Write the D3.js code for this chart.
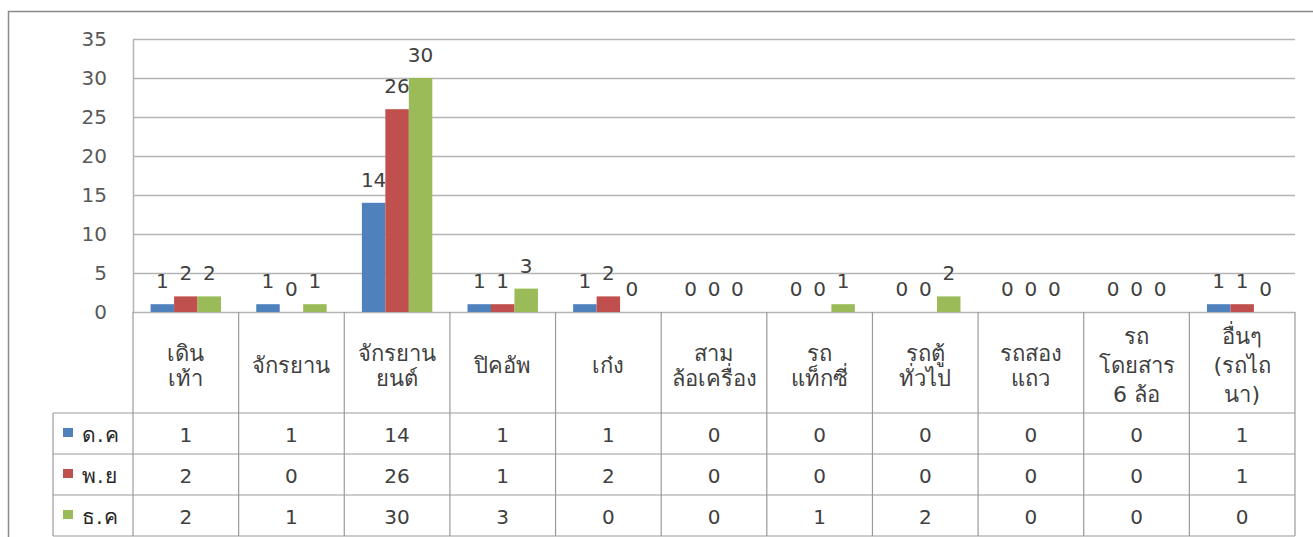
<!DOCTYPE html>
<html>
<head>
<meta charset="utf-8">
<script src="https://cdn.jsdelivr.net/npm/d3@7"></script>
<style>
  body { margin: 0; background: #fff; }
  text { font-family: "DejaVu Sans", sans-serif; }
</style>
</head>
<body>
<div id="chart"></div>
<script>
const categories = [
  ["เดิน", "เท้า"],
  ["จักรยาน"],
  ["จักรยาน", "ยนต์"],
  ["ปิคอัพ"],
  ["เก๋ง"],
  ["สาม", "ล้อเครื่อง"],
  ["รถ", "แท็กซี่"],
  ["รถตู้", "ทั่วไป"],
  ["รถสอง", "แถว"],
  ["รถ", "โดยสาร", "6 ล้อ"],
  ["อื่นๆ", "(รถไถ", "นา)"]
];
const seriesNames = ["ด.ค", "พ.ย", "ธ.ค"];
const octValues = [1, 1, 14, 1, 1, 0, 0, 0, 0, 0, 1];
const novValues = [2, 0, 26, 1, 2, 0, 0, 0, 0, 0, 1];
const decValues = [2, 1, 30, 3, 0, 0, 1, 2, 0, 0, 0];
const yTicks = [0, 5, 10, 15, 20, 25, 30, 35];

const colors = ["#4f81bd", "#c0504d", "#9bbb59"];
const series = [octValues, novValues, decValues];

const width = 1313, height = 537;
const plotLeft = 133, plotRight = 1295, plotTop = 39, plotBottom = 312;
const headerBottom = 413, rowH = 41, legendLeft = 53;

const svg = d3.select("#chart").append("svg")
  .attr("width", width)
  .attr("height", height);

// chart border (right and bottom edges fall outside the picture)
svg.append("rect")
  .attr("x", 8.5).attr("y", 11.5)
  .attr("width", 1320).attr("height", 540)
  .attr("fill", "none")
  .attr("stroke", "#8a8a8a")
  .attr("stroke-width", 1.5);

const x = d3.scaleBand()
  .domain(d3.range(categories.length))
  .range([plotLeft, plotRight])
  .padding(0);

const bw = x.bandwidth();
// gap width 150% of a bar
const inner = d3.scaleBand()
  .domain(d3.range(series.length))
  .range([bw / 9 * 1.5, bw - bw / 9 * 1.5])
  .padding(0);

const y = d3.scaleLinear()
  .domain([0, 35])
  .range([plotBottom, plotTop]);

// gridlines
svg.append("g")
  .selectAll("line")
  .data(yTicks)
  .enter()
  .append("line")
  .attr("x1", plotLeft)
  .attr("x2", plotRight)
  .attr("y1", d => Math.round(y(d)) + 0.5)
  .attr("y2", d => Math.round(y(d)) + 0.5)
  .attr("stroke", "#b4b4b4")
  .attr("stroke-width", 1.5);

// y axis
const yAxis = svg.append("g")
  .attr("transform", `translate(${plotLeft},0)`)
  .call(d3.axisLeft(y).tickValues(yTicks).tickSize(0).tickPadding(26));
yAxis.select(".domain").attr("stroke", "#b4b4b4").attr("stroke-width", 1.5);
yAxis.selectAll("text")
  .attr("font-size", "20px")
  .attr("fill", "#595959")
  .attr("font-family", "DejaVu Sans, sans-serif");

// bars + labels
series.forEach((vals, s) => {
  const g = svg.append("g");
  g.selectAll("rect")
    .data(vals)
    .enter()
    .append("rect")
    .attr("x", (d, i) => x(i) + inner(s))
    .attr("width", inner.bandwidth())
    .attr("y", d => y(d))
    .attr("height", d => y(0) - y(d))
    .attr("fill", colors[s]);

  g.selectAll("text")
    .data(vals)
    .enter()
    .append("text")
    .attr("x", (d, i) => x(i) + inner(s) + inner.bandwidth() / 2)
    .attr("y", d => y(d) - 16)
    .attr("text-anchor", "middle")
    .attr("font-size", "20px")
    .attr("fill", "#404040")
    .text(d => d);
});

// data table grid
const table = svg.append("g").attr("stroke", "#9a9a9a").attr("stroke-width", 1.2);
const tableBottom = headerBottom + rowH * 3;
d3.range(categories.length + 1).forEach(i => {
  const xx = i < categories.length ? x(i) : plotRight;
  table.append("line")
    .attr("x1", xx).attr("x2", xx)
    .attr("y1", plotBottom).attr("y2", tableBottom);
});
d3.range(4).forEach(r => {
  table.append("line")
    .attr("x1", legendLeft).attr("x2", plotRight)
    .attr("y1", headerBottom + r * rowH).attr("y2", headerBottom + r * rowH);
});
table.append("line")
  .attr("x1", legendLeft).attr("x2", legendLeft)
  .attr("y1", headerBottom).attr("y2", tableBottom);

// category labels
const catG = svg.append("g");
categories.forEach((lines, i) => {
  const lineH = lines.length > 2 ? 29 : 25;
  const cy = 373 - (lines.length - 1) * lineH / 2;
  const t = catG.append("text")
    .attr("text-anchor", "middle")
    .attr("font-size", "22px")
    .attr("fill", "#404040");
  lines.forEach((ln, k) => {
    t.append("tspan")
      .attr("x", x(i) + bw / 2)
      .attr("y", cy + k * lineH)
      .text(ln);
  });
});

// table values and legend keys
series.forEach((vals, s) => {
  const rowY = headerBottom + s * rowH;
  svg.append("rect")
    .attr("x", 63).attr("y", rowY + 15)
    .attr("width", 10).attr("height", 9)
    .attr("fill", colors[s]);
  svg.append("text")
    .attr("x", 82).attr("y", rowY + 29)
    .attr("font-size", "21px")
    .attr("letter-spacing", "1px")
    .attr("fill", "#262626")
    .text(seriesNames[s]);
  svg.append("g")
    .selectAll("text")
    .data(vals)
    .enter()
    .append("text")
    .attr("x", (d, i) => x(i) + bw / 2)
    .attr("y", rowY + 29)
    .attr("text-anchor", "middle")
    .attr("font-size", "20px")
    .attr("fill", "#404040")
    .text(d => d);
});
</script>
</body>
</html>
